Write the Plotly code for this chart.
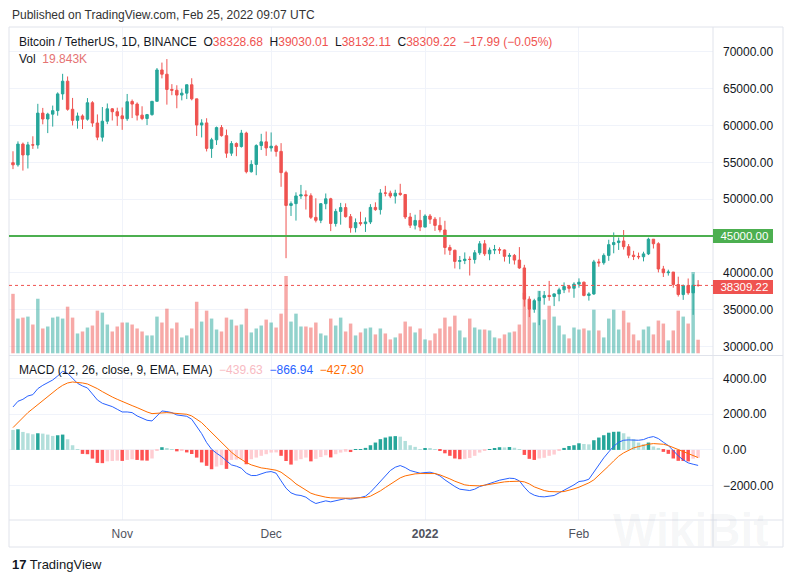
import pandas as pd
import plotly.graph_objects as go

# daily BTC/USDT candles, 2021-10-10 .. 2022-02-25
dates = pd.date_range("2021-10-10", "2022-02-25", freq="D")

opens = [
    54952, 54660, 57471, 55996, 57370, 57348, 61672, 60875, 61529, 62010, 64280, 66002, 62193, 60689, 61287, 60852,
    63079, 60328, 58413, 60575, 62253, 61859,
    61300, 60911, 63254, 62896, 61396, 60941, 61470, 63273, 67525, 66947, 64883, 64775, 64122, 64380, 65520, 63606,
    60058, 60345, 56891, 58053, 59707, 58617, 56247, 57541, 57139, 58961, 53723, 54716, 57275, 57776,
    56951, 57185, 56484, 53602, 49152, 49397, 50441, 50589, 50471, 47535, 47141, 49389, 50053, 46703, 48344, 48864,
    47632, 46133, 46835, 46681, 46914, 48887, 48588, 50838, 50821, 50428, 50809, 50640, 47588, 46464, 47121,
    46216, 47723, 47287, 46446, 45832, 43451, 43082, 41566, 41679, 41865, 41821, 42735, 43946, 42592, 43099, 43172,
    43118, 42250, 42375, 41744, 40681, 36445, 35071, 36244, 36660, 36958, 36810, 37161, 37713, 38166, 37917,
    38483, 38743, 36945, 37154, 41500, 41383, 42380, 43840, 44118, 44338, 43565, 42408, 42244, 42197, 42586, 44578,
    43961, 40538, 40031, 40122, 38431, 37068, 38286, 37296, 38328.68,
]
highs = [
    56500, 57840, 57680, 57777, 58532, 62933, 62378, 61718, 62695, 64486, 67000, 66639, 63732, 61747, 61500, 63710,
    63293, 61496, 62499, 62980, 62359, 62405,
    62437, 64270, 63516, 63123, 62600, 61560, 63286, 67789, 68524, 69000, 65600, 65450, 64990, 65550, 66401, 63617,
    60840, 60977, 58320, 59846, 60052, 59444, 57875, 57700, 59398, 59150, 55280, 57445, 58865, 59176,
    59053, 57375, 57600, 53859, 49699, 50929, 51936, 51200, 50797, 50125, 49485, 50777, 50189, 48700, 49500, 49436,
    47995, 47392, 48300, 47537, 49328, 49576, 51375, 51810, 51156, 51280, 52088, 50704, 48139, 47900, 48548,
    47954, 47990, 47570, 47557, 47070, 43816, 43145, 42300, 42786, 42248, 43100, 44322, 44459, 43448, 43800, 43475,
    43180, 42691, 42572, 43505, 41100, 36835, 36499, 37550, 37545, 38919, 37234, 38000, 38720, 38359, 38744,
    39265, 38834, 37387, 41772, 41913, 42656, 44500, 45492, 44798, 45821, 43920, 43000, 42760, 42876, 44775, 44578,
    44164, 40959, 40444, 40126, 39494, 38429, 39249, 39843, 39030.01,
]
lows = [
    54080, 54415, 53879, 54167, 56818, 56850, 60150, 58963, 59844, 61322, 63481, 62000, 60000, 59562, 59510, 60650,
    59817, 58000, 57820, 60174, 60673, 59945,
    59405, 60624, 61000, 60677, 60721, 60050, 61322, 63273, 66382, 62822, 64100, 62333, 63400, 63576, 63400, 58574,
    58373, 56474, 55600, 57353, 58486, 55610, 55875, 55837, 57000, 53500, 53610, 53256, 56667, 55875,
    56458, 55777, 51680, 42000, 47727, 47100, 50039, 48600, 47320, 46852, 46751, 48638, 45672, 46290, 46547, 47511,
    45456, 45500, 46406, 45558, 46630, 48421, 47920, 50384, 50142, 49412, 50450, 47313, 46096, 45900, 45678,
    46208, 46654, 45696, 45500, 42500, 42430, 40610, 40501, 41200, 39650, 41268, 42450, 42311, 41725, 42555, 42581,
    41540, 41250, 41138, 40553, 35440, 34008, 34601, 32917, 35701, 36234, 35507, 36155, 37268, 37351, 36632,
    38000, 36832, 36250, 37026, 40843, 41116, 41645, 42666, 43117, 43174, 42000, 41748, 41867, 41570, 42427, 43311,
    40073, 39450, 39639, 38000, 36800, 36350, 37036, 34322, 38132.11,
]
closes = [
    54660, 57471, 55996, 57367, 57348, 61672, 60875, 61529, 62010, 64280, 66001, 62193, 60688, 61286, 60852, 63078,
    60329, 58413, 60575, 62253, 61859, 61300,
    60911, 63219, 62896, 61395, 60937, 61470, 63273, 67525, 66947, 64882, 64775, 64122, 64380, 65519, 63607, 60058,
    60345, 56891, 58052, 59707, 58622, 56247, 57541, 57139, 58960, 53726, 54721, 57274, 57776, 56950,
    57184, 56480, 53601, 49152, 49397, 50441, 50589, 50471, 47545, 47141, 49390, 50053, 46702, 48344, 48864, 47632,
    46131, 46834, 46681, 46914, 48889, 48588, 50838, 50821, 50429, 50809, 50640, 47588, 46464, 47120, 46216,
    47722, 47286, 46446, 45832, 43451, 43082, 41566, 41679, 41864, 41822, 42736, 43950, 42592, 43099, 43177, 43113,
    42250, 42375, 41744, 40680, 36445, 35071, 36244, 36660, 36958, 36810, 37161, 37713, 38166, 37917, 38484,
    38743, 36952, 37154, 41500, 41382, 42380, 43840, 44118, 44338, 43565, 42407, 42244, 42197, 42586, 44575, 43961,
    40538, 40031, 40122, 38431, 37075, 38287, 37296, 38327.21, 38309.22,
]
# volume, thousands of BTC
volumes = [
    87.0, 50.8, 52.2, 53.7, 42.1, 79.8, 36.3, 39.2, 52.2, 53.7, 50.8, 68.2, 52.2, 29.0, 31.9, 37.7, 40.6, 62.4, 59.5,
    42.1, 31.9, 39.2,
    45.0, 45.0, 42.1, 36.3, 31.9, 26.1, 26.1, 53.7, 45.0, 65.3, 36.3, 45.0, 23.2, 26.1, 36.3, 75.4, 46.4, 62.4, 50.8,
    34.8, 31.9, 52.2, 49.3, 40.6, 42.1, 65.3, 30.5, 36.3, 40.6, 49.3,
    45.0, 37.7, 58.0, 113.1, 46.4, 58.0, 39.2, 39.2, 37.7, 45.0, 29.0, 26.1, 50.8, 40.6, 52.2, 31.9, 43.5, 26.1, 30.5,
    36.3, 37.7, 27.6, 36.3, 29.0, 20.3, 23.2, 29.0, 46.4, 39.2, 30.5, 36.3,
    20.3, 18.9, 29.0, 36.3, 52.2, 39.2, 55.1, 33.4, 23.2, 50.8, 37.7, 34.8, 34.8, 33.4, 23.2, 21.8, 27.6, 30.5, 31.9,
    42.1, 88.5, 63.8, 45.0, 91.4, 49.3, 69.6, 53.7, 40.6, 27.6, 21.8, 37.7,
    34.8, 36.3, 33.4, 63.8, 33.4, 23.2, 50.8, 63.8, 34.8, 62.4, 45.0, 27.6, 18.9, 34.8, 39.2, 27.6, 47.9, 43.5, 18.9,
    33.4, 62.4, 53.7, 43.5, 118.9, 19.843,
]

# MACD (12, 26, 9) as drawn in the lower pane
macd_line = [
    2400, 2716, 2827, 3013, 3088, 3422, 3608, 3757, 3906, 4129, 4390, 4278, 3980, 3720, 3571, 3460, 3125, 2790, 2604,
    2511, 2418, 2269, 2120, 2120, 2083, 1897, 1767, 1655, 1618, 1897, 2176, 2139, 2083, 1953,
    1934, 1879, 1711, 1339, 911, 409, 37, -186, -372, -614, -837, -911, -1023, -1302, -1432, -1432, -1339, -1246,
    -1209, -1302, -1730, -2139, -2399, -2511, -2548, -2641, -2846, -2995, -2920, -2846, -2902, -2827, -2753, -2716,
    -2753, -2716, -2660, -2585, -2362, -2065, -1748, -1414, -1153, -967, -874, -986, -1153, -1228, -1302, -1265,
    -1246, -1321, -1451, -1674, -1879, -2046, -2195, -2251, -2269, -2195, -2046, -1972, -1897, -1786, -1693, -1637,
    -1581, -1600, -1730, -2083,
    -2381, -2530, -2604, -2623, -2604, -2548, -2399, -2251, -2120, -1953, -1767, -1730, -1637, -1228, -837, -446,
    -112, 205, 428, 539, 558, 539, 539, 577, 688, 744, 632, 428, 242, -37, -335, -558, -725, -800, -866.94,
]
signal_line = [
    1246, 1525, 1823, 2083, 2306, 2530, 2771, 3013, 3236, 3422, 3608, 3739, 3794, 3776, 3739, 3683, 3571, 3422, 3255,
    3088, 2957, 2827, 2697, 2585, 2474, 2362, 2232, 2120, 2027, 2027, 2065, 2083, 2065, 2046,
    2027, 1990, 1897, 1730, 1525, 1246, 967, 688, 409, 130, -130, -353, -539, -707, -837, -930, -1004, -1042, -1079,
    -1135, -1246, -1432, -1655, -1897, -2083, -2269, -2418, -2511, -2585, -2641, -2678, -2697, -2697, -2697,
    -2697, -2697, -2678, -2660, -2585, -2455, -2288, -2102, -1916, -1730, -1562, -1451, -1376, -1339, -1321, -1321,
    -1302, -1321, -1395, -1488, -1618, -1748, -1860, -1953, -1990, -2009, -2009, -1972, -1916, -1860, -1823, -1786,
    -1767, -1748, -1748, -1786,
    -1900, -2065, -2176, -2269, -2325, -2344, -2344, -2325, -2269, -2176, -2083, -1972, -1841, -1674, -1432, -1172,
    -893, -614, -353, -167, -19, 112, 186, 260, 316, 353, 353, 316, 242, 130, 19, -93, -205, -316, -427.30,
]
macd_hist = [
    1116, 1153, 1004, 930, 874, 930, 910, 856, 781, 818, 856, 595, 260, 37, -223, -240, -484, -725, -740, -640, -620,
    -600, -615, -560, -520, -560, -590, -600, -480, -56, 150, 74, 10, -80,
    -60, -140, -230, -430, -700, -890, -1080, -930, -850, -1060, -560, -540, -520, -800, -520, -430, -330, -240, -150,
    -140, -330, -620, -820, -600, -520, -430, -640, -500, -400, -300, -420, -240, -150, -100, -120,
    20, 37, 112, 260, 410, 600, 690, 750, 770, 740, 500, 260, 170, 40, 90, 70, 30, -60, -190, -330, -480, -520, -500,
    -450, -330, -150, -60, 40, 90, 150, 140, 160, 120, 40,
    -280, -500, -560, -480, -440, -330, -260, -40, 110, 220, 260, 370, 330, 310, 540, 690, 820, 960, 1010, 1020, 930,
    740, 600, 410, 320, 410, 190, 110, -110, -220, -480, -610, -620, -640, -490, -439.63,
]

level_price = 45000
price_ticks = [30000, 35000, 40000, 45000, 50000, 55000, 60000, 65000, 70000]
macd_ticks = [-2000, 0, 2000, 4000]
month_ticks = ["2021-11-01", "2021-12-01", "2022-01-01", "2022-02-01"]
month_labels = ["Nov", "Dec", "<b>2022</b>", "Feb"]

UP = "#26a69a"
DOWN = "#ef5350"
GRID = "#f0f3fa"
BORDER = "#e0e3eb"
TEXT = "#131722"
FONT = "Liberation Sans"


def fmt(v):
    return f"{v:.2f}".replace("-", "\u2212")


def hist_colors(values):
    colors = []
    prev = None
    for v in values:
        rising = prev is not None and v > prev
        if v >= 0:
            colors.append(UP if rising else "#b2dfdb")
        else:
            colors.append("#ffcdd2" if rising else "#ff5252")
        prev = v
    return colors


def px_x(px):
    # pixel -> paper x (plot area spans 9..713)
    return (px - 9) / 704


def px_y(py):
    # pixel -> paper y (plot area spans 27..520)
    return (520 - py) / 493


vol_colors = ["rgba(38,166,154,0.5)" if c >= o else "rgba(239,83,80,0.5)" for o, c in zip(opens, closes)]
day = 86400000

fig = go.Figure()
fig.add_trace(go.Bar(x=dates, y=volumes, marker=dict(color=vol_colors, line=dict(width=0)),
                     width=0.7 * day, yaxis="y", xaxis="x", hoverinfo="skip"))
fig.add_trace(go.Candlestick(x=dates, open=opens, high=highs, low=lows, close=closes, yaxis="y3", xaxis="x",
                             increasing=dict(line=dict(color=UP, width=1), fillcolor=UP),
                             decreasing=dict(line=dict(color=DOWN, width=1), fillcolor=DOWN),
                             whiskerwidth=0, hoverinfo="skip"))
fig.add_trace(go.Bar(x=dates, y=macd_hist, marker=dict(color=hist_colors(macd_hist), line=dict(width=0)),
                     width=0.7 * day, yaxis="y2", xaxis="x", hoverinfo="skip"))
fig.add_trace(go.Scatter(x=dates, y=macd_line, mode="lines", line=dict(color="#2962ff", width=1),
                         yaxis="y2", xaxis="x", hoverinfo="skip"))
fig.add_trace(go.Scatter(x=dates, y=signal_line, mode="lines", line=dict(color="#ff6d00", width=1),
                         yaxis="y2", xaxis="x", hoverinfo="skip"))

x_start = dates[0] - pd.Timedelta(hours=19.3)
x_end = dates[0] + pd.Timedelta(days=141)

# the 45000 tick is covered by the level label, so leave its text empty
price_labels = ["" if v == level_price else fmt(v) for v in price_ticks]

fig.update_layout(
    width=793, height=582,
    margin=dict(l=9, r=80, t=27, b=62),
    paper_bgcolor="white", plot_bgcolor="white",
    showlegend=False, barmode="overlay",
    font=dict(family=FONT, size=12, color=TEXT),
    xaxis=dict(type="date", range=[x_start, x_end], domain=[0, 1], anchor="y2",
               tickvals=month_ticks, ticktext=month_labels, showgrid=True, gridcolor=GRID,
               ticks="", showline=False, zeroline=False, rangeslider=dict(visible=False),
               ticklabelstandoff=5, tickfont=dict(size=12, color="#50535e")),
    yaxis=dict(domain=[px_y(355), 1], range=[-2.5, 477.4], visible=False, showgrid=False),
    yaxis3=dict(overlaying="y", side="right", anchor="x", range=[28875, 73349],
                tickvals=price_ticks, ticktext=price_labels,
                showgrid=True, gridcolor=GRID, zeroline=False, ticks="", showline=False,
                ticklabelstandoff=9, tickfont=dict(size=12, color=TEXT)),
    yaxis2=dict(domain=[0, px_y(356)], side="right", anchor="x", range=[-3916, 5246],
                tickvals=macd_ticks, ticktext=[fmt(v) for v in macd_ticks],
                showgrid=True, gridcolor=GRID, zeroline=False, ticks="", showline=False,
                ticklabelstandoff=9, tickfont=dict(size=12, color=TEXT)),
)

right_edge = px_x(783)
bottom_edge = px_y(547)
shapes = [
    # outer frame and pane dividers
    dict(type="rect", xref="paper", yref="paper", x0=0, x1=right_edge, y0=bottom_edge, y1=1,
         line=dict(color=BORDER, width=1)),
    dict(type="line", xref="paper", yref="paper", x0=0, x1=right_edge, y0=px_y(355.5), y1=px_y(355.5),
         line=dict(color=BORDER, width=1)),
    dict(type="line", xref="paper", yref="paper", x0=0, x1=right_edge, y0=0, y1=0,
         line=dict(color=BORDER, width=1)),
    dict(type="line", xref="paper", yref="paper", x0=1, x1=1, y0=bottom_edge, y1=1,
         line=dict(color=BORDER, width=1)),
    # horizontal level and last price
    dict(type="line", xref="paper", yref="y3", x0=0, x1=1, y0=level_price, y1=level_price,
         line=dict(color="#4caf50", width=2)),
    dict(type="line", xref="paper", yref="y3", x0=0, x1=1, y0=closes[-1], y1=closes[-1],
         line=dict(color=DOWN, width=1, dash="dot")),
]
fig.update_layout(shapes=shapes)

red = f"<span style='color:{DOWN}'>"
change = closes[-1] - closes[-2]
pct = change / closes[-2] * 100
sp = "\u00a0\u00a0"
header = (f"Bitcoin / TetherUS, 1D, BINANCE{sp}O{red}{fmt(opens[-1])}</span>{sp}H{red}{fmt(highs[-1])}</span>"
          f"{sp}L{red}{fmt(lows[-1])}</span>{sp}C{red}{fmt(closes[-1])}</span>{sp}"
          f"{red}{fmt(change)} ({fmt(pct)}%)</span>")
vol_text = f"Vol{sp}<span style='color:#e57373'>{volumes[-1]:.3f}K</span>"
macd_text = (f"MACD (12, 26, close, 9, EMA, EMA){sp}<span style='color:#f8bbc3'>{fmt(macd_hist[-1])}</span>{sp}"
             f"<span style='color:#2962ff'>{fmt(macd_line[-1])}</span>{sp}"
             f"<span style='color:#ff6d00'>{fmt(signal_line[-1])}</span>")

notes = [
    dict(text="Published on TradingView.com, Feb 25, 2022 09:07 UTC", x=px_x(10), y=px_y(15),
         font=dict(size=12, color="#333")),
    dict(text=header, x=px_x(17), y=px_y(42), font=dict(size=12, color=TEXT)),
    dict(text=vol_text, x=px_x(17), y=px_y(59), font=dict(size=12, color=TEXT)),
    dict(text=macd_text, x=px_x(17), y=px_y(370), font=dict(size=12, color=TEXT)),
    dict(text="<b>17</b> TradingView", x=px_x(10), y=px_y(564), font=dict(size=13, color=TEXT)),
    dict(text="<b>WikiBit</b>", x=px_x(690), y=px_y(530), xanchor="center",
         font=dict(size=46, color="rgba(120,130,150,0.07)")),
]
annotations = []
for n in notes:
    a = dict(xref="paper", yref="paper", xanchor="left", yanchor="middle", showarrow=False)
    a.update(n)
    annotations.append(a)

# price labels on the axis
for value, colour, shift in [(level_price, "#4caf50", 0), (closes[-1], DOWN, -1.5)]:
    annotations.append(dict(xref="paper", yref="y3", x=1.0, y=value, xanchor="left", yanchor="middle",
                            text="\u00a0\u00a0" + fmt(value) + "\u00a0", showarrow=False, bgcolor=colour,
                            borderpad=1, borderwidth=0, yshift=shift,
                            font=dict(size=11.5, color="white")))
fig.update_layout(annotations=annotations)

# drop the default page margin so the figure sits at the window's top-left corner
fig.write_html("out.html", config={"displayModeBar": False},
               post_script="document.body.style.margin='0px';")
